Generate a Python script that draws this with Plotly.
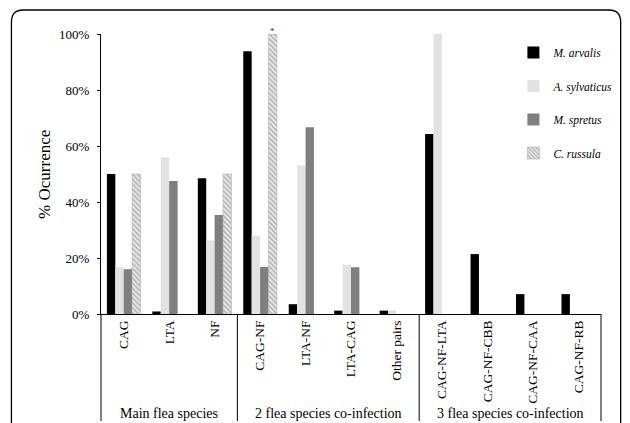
import plotly.graph_objects as go

categories = ["CAG", "LTA", "NF", "CAG-NF", "LTA-NF", "LTA-CAG", "Other pairs",
              "CAG-NF-LTA", "CAG-NF-CBB", "CAG-NF-CAA", "CAG-NF-RB"]
m_arvalis = [50, 0.9, 48.5, 93.8, 3.5, 1.2, 1.2, 64.3, 21.4, 7.1, 7.1]
a_sylvaticus = [16.7, 56, 26.3, 28, 53, 17.6, 1.3, 100, None, None, None]
m_spretus = [16, 47.5, 35.4, 16.8, 66.7, 16.7, None, None, None, None, None]
c_russula = [50, None, 50, 100, None, None, None, None, None, None, None]
y_tickvals = [0, 20, 40, 60, 80, 100]
y_ticktext = ["0%", "20%", "40%", "60%", "80%", "100%"]
group_labels = ["Main flea species", "2 flea species co-infection", "3 flea species co-infection"]
group_centers = [1, 4.5, 8.5]
group_bounds = [2.5, 6.5]

FONT = "Liberation Serif, Times New Roman, serif"
OFF = 8  # default page body margin
W, H = 630 - OFF, 423 - OFF
# plot area in page pixels: x 101..609, y 34..314
PL, PR, PT, PB = 101, 609, 34, 314
L, T = PL - OFF, PT - OFF
R = (OFF + W) - PR
B = (OFF + H) - PB
pw, ph = PR - PL, PB - PT

def px(xp):
    return (xp - PL) / pw

def py(yp):
    return (PB - yp) / ph

fig = go.Figure()
fig.add_bar(x=categories, y=m_arvalis, name="<i>M. arvalis</i>",
            marker=dict(color="#000000", line=dict(width=0)), legendgroup="a")
fig.add_bar(x=categories, y=a_sylvaticus, name="<i>A. sylvaticus</i>",
            marker=dict(color="#e2e2e2", line=dict(width=0)), legendgroup="b")
fig.add_bar(x=categories, y=m_spretus, name="<i>M. spretus</i>",
            marker=dict(color="#7f7f7f", line=dict(width=0)), legendgroup="c")
fig.add_bar(x=categories, y=c_russula, name="<i>C. russula</i>",
            marker=dict(color="#e8e8e8", line=dict(width=0.6, color="#b0b0b0"),
                        pattern=dict(shape="\\", fgcolor="#6e6e6e", bgcolor="#eeeeee",
                                     size=3.5, solidity=0.45)),
            legendgroup="d")

shapes = []
for xv in [0, 1]:
    shapes.append(dict(type="line", xref="paper", yref="paper", x0=xv, x1=xv,
                       y0=0, y1=py(421), line=dict(color="black", width=1)))
for b in group_bounds:
    shapes.append(dict(type="line", xref="x", yref="paper", x0=b, x1=b,
                       y0=0, y1=py(421), line=dict(color="black", width=1)))
x0, x1, y0, y1 = px(10), px(629), py(10), py(440)
rx, ry = 12 / pw, 12 / ph
path = (f"M {x0},{y1} L {x0},{y0 - ry} Q {x0},{y0} {x0 + rx},{y0} "
        f"L {x1 - rx},{y0} Q {x1},{y0} {x1},{y0 - ry} L {x1},{y1}")
shapes.append(dict(type="path", xref="paper", yref="paper", path=path,
                   line=dict(color="black", width=1.3)))

annotations = []
for lbl, c in zip(group_labels, group_centers):
    annotations.append(dict(x=c, xref="x", y=py(413), yref="paper", text=lbl,
                            showarrow=False, font=dict(family=FONT, size=14, color="black"),
                            xanchor="center", yanchor="middle"))
annotations.append(dict(x=px(43), xref="paper", y=0.5, yref="paper", text="% Ocurrence",
                        textangle=-90, showarrow=False,
                        font=dict(family=FONT, size=17, color="black"),
                        xanchor="center", yanchor="middle"))
annotations.append(dict(x="CAG-NF", xref="x", y=100, yref="y", text="*", xshift=12.8,
                        yshift=3, showarrow=False, yanchor="middle",
                        font=dict(family=FONT, size=9, color="#333333")))

fig.update_layout(
    width=W, height=H,
    margin=dict(l=L, r=R, t=T, b=B, pad=0),
    paper_bgcolor="white", plot_bgcolor="white",
    barmode="group", bargap=0.26, bargroupgap=0,
    font=dict(family=FONT, color="black"),
    shapes=shapes, annotations=annotations,
    legend=dict(x=px(520), y=py(38), xanchor="left", yanchor="top",
                font=dict(family=FONT, size=11.5, color="black"),
                tracegroupgap=14.5, bgcolor="rgba(0,0,0,0)"),
    xaxis=dict(showline=True, linecolor="black", linewidth=1, tickangle=-90,
               tickfont=dict(family=FONT, size=13.5, color="black"), ticks="",
               showgrid=False, zeroline=False),
    yaxis=dict(range=[0, 100], tickmode="array", tickvals=y_tickvals, ticktext=y_ticktext,
               showline=True, linecolor="black", linewidth=1, ticks="outside",
               ticklen=3, tickcolor="black", showgrid=False, zeroline=False,
               tickfont=dict(family=FONT, size=13, color="black"),
               ticklabelstandoff=5),
)

fig.write_html("out.html")
